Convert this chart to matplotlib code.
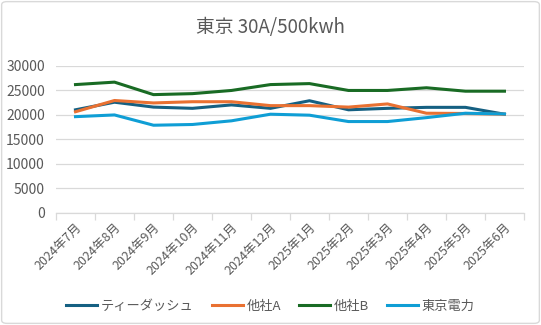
import matplotlib
matplotlib.use("Agg")
import matplotlib.pyplot as plt
from matplotlib.patches import FancyBboxPatch
from matplotlib.ticker import FixedLocator

plt.rcParams["font.family"] = ["Noto Sans CJK JP", "DejaVu Sans"]

months = ["2024年7月", "2024年8月", "2024年9月", "2024年10月", "2024年11月", "2024年12月",
          "2025年1月", "2025年2月", "2025年3月", "2025年4月", "2025年5月", "2025年6月"]
tdash = [21050, 22600, 21600, 21350, 22050, 21350, 22900, 21050, 21350, 21550, 21550, 20150]
company_a = [20650, 22950, 22450, 22700, 22700, 21900, 21900, 21600, 22250, 20350, 20300, 20150]
company_b = [26200, 26700, 24150, 24350, 25000, 26200, 26400, 25000, 25000, 25550, 24850, 24850]
tepco = [19650, 20000, 17900, 18050, 18800, 20150, 19950, 18650, 18650, 19450, 20350, 20200]

series = [
    ("ティーダッシュ", tdash, "#156082"),
    ("他社A", company_a, "#E97132"),
    ("他社B", company_b, "#196B24"),
    ("東京電力", tepco, "#0F9ED5"),
]

GRAY = "#595959"
GRID = "#D9D9D9"

fig = plt.figure(figsize=(5.41, 3.25), dpi=100)
fig.patch.set_facecolor("white")
fig.patches.append(
    FancyBboxPatch((0.003, 0.005), 0.994, 0.99, boxstyle="round,pad=0,rounding_size=0.01",
                   transform=fig.transFigure, facecolor="none", edgecolor="#D9D9D9",
                   linewidth=1.0)
)

ax = fig.add_axes([0.1035, 0.345, 0.865, 0.452])
x = list(range(len(months)))
for name, vals, color in series:
    ax.plot(x, vals, color=color, linewidth=2.2, label=name, solid_joinstyle="round")

ax.set_xlim(-0.5, len(months) - 0.5)
ax.set_ylim(0, 30000)
ax.set_yticks(range(0, 30001, 5000))
ax.yaxis.grid(True, color=GRID, linewidth=0.9)
ax.set_axisbelow(True)
for side in ("left", "right", "top"):
    ax.spines[side].set_visible(False)
ax.spines["bottom"].set_color(GRID)
ax.spines["bottom"].set_linewidth(0.9)

ax.set_xticks(x)
ax.set_xticklabels(months, rotation=45, ha="right", rotation_mode="anchor")
ax.xaxis.set_minor_locator(FixedLocator([i - 0.5 for i in range(len(months) + 1)]))
ax.tick_params(axis="x", which="major", length=0, pad=6, labelsize=9, labelcolor=GRAY)
ax.tick_params(axis="x", which="minor", length=5, color=GRID, width=0.9)
ax.tick_params(axis="y", length=0, pad=8, labelsize=10, labelcolor=GRAY)

fig.text(0.5, 0.915, "東京 30A/500kwh", ha="center", va="center", fontsize=13.5, color=GRAY)

fig.legend(loc="center", bbox_to_anchor=(0.5, 0.058), ncol=4, frameon=False,
           fontsize=9.5, labelcolor=GRAY, handlelength=2.35, columnspacing=1.35,
           handletextpad=0.3)

fig.savefig("out.png", dpi=100)
